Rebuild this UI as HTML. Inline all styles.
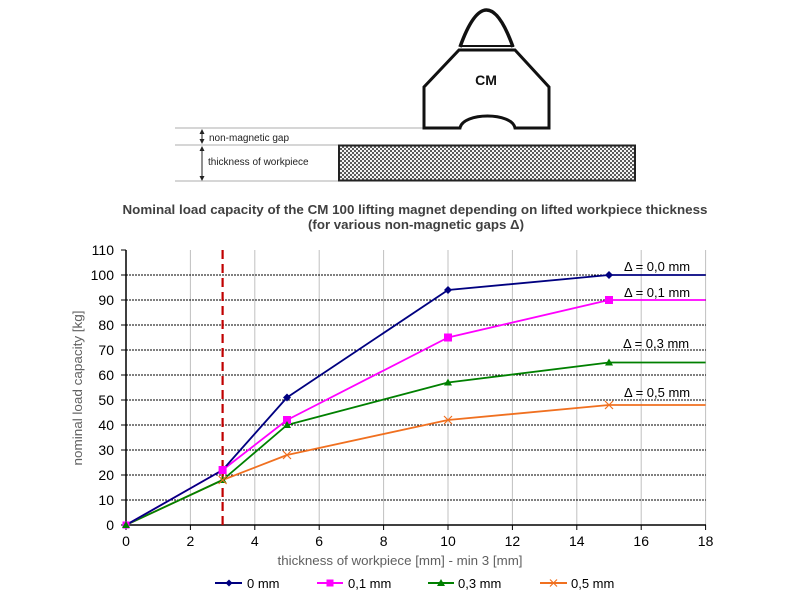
<!DOCTYPE html>
<html><head><meta charset="utf-8"><style>
html,body{margin:0;padding:0;background:#fff;}
svg{display:block;}
text{font-family:"Liberation Sans",Arial,sans-serif;}
</style></head><body>
<svg width="800" height="600" viewBox="0 0 800 600" xmlns="http://www.w3.org/2000/svg">
<defs>
<pattern id="chk" width="4" height="4" patternUnits="userSpaceOnUse">
<rect width="4" height="4" fill="#f4f4f4"/>
<rect width="2" height="2" fill="#5a5a5a"/>
<rect x="2" y="2" width="2" height="2" fill="#5a5a5a"/>
</pattern>
</defs>
<rect width="800" height="600" fill="#fff"/>

<!-- diagram -->
<line x1="175" y1="128" x2="423" y2="128" stroke="#c8c8c8" stroke-width="1.5"/>
<line x1="175" y1="145" x2="338" y2="145" stroke="#c8c8c8" stroke-width="1.5"/>
<line x1="175" y1="181" x2="338" y2="181" stroke="#c8c8c8" stroke-width="1.5"/>
<rect x="339" y="145.5" width="296" height="35" fill="url(#chk)" stroke="#222" stroke-width="2"/>
<!-- arrows -->
<line x1="202" y1="131" x2="202" y2="143" stroke="#222" stroke-width="1"/>
<polygon points="202,129 199.5,134 204.5,134" fill="#222"/>
<polygon points="202,144 199.5,139 204.5,139" fill="#222"/>
<line x1="202" y1="148" x2="202" y2="179" stroke="#222" stroke-width="1"/>
<polygon points="202,146 199.5,151 204.5,151" fill="#222"/>
<polygon points="202,181 199.5,176 204.5,176" fill="#222"/>
<text x="209" y="141" font-size="10" fill="#222">non-magnetic gap</text>
<text x="208" y="165" font-size="10" fill="#222">thickness of workpiece</text>
<!-- magnet -->
<path d="M460,47 Q486.5,-27 513,47" fill="none" stroke="#111" stroke-width="3.5"/>
<line x1="460" y1="46" x2="514" y2="46" stroke="#111" stroke-width="2"/>
<path d="M459,50 L515,50 L549,87 L549,128 L515,128 C512,112 463,112 460,128 L424,128 L424,87 Z" fill="#fff" stroke="#111" stroke-width="3"/>
<text x="486" y="85" font-size="14" font-weight="bold" text-anchor="middle" fill="#111">CM</text>

<!-- title -->
<text x="415" y="214" font-size="12.5" font-weight="bold" fill="#404040" text-anchor="middle" textLength="585" lengthAdjust="spacingAndGlyphs">Nominal load capacity of the CM 100 lifting magnet depending on lifted workpiece thickness</text>
<text x="416" y="229" font-size="12.5" font-weight="bold" fill="#404040" text-anchor="middle" textLength="216" lengthAdjust="spacingAndGlyphs">(for various non-magnetic gaps Δ)</text>

<!-- vertical grid -->
<g stroke="#c0c0c0" stroke-width="1">
<line x1="190.4" y1="250" x2="190.4" y2="525"/>
<line x1="254.8" y1="250" x2="254.8" y2="525"/>
<line x1="319.2" y1="250" x2="319.2" y2="525"/>
<line x1="383.6" y1="250" x2="383.6" y2="525"/>
<line x1="448" y1="250" x2="448" y2="525"/>
<line x1="512.4" y1="250" x2="512.4" y2="525"/>
<line x1="576.8" y1="250" x2="576.8" y2="525"/>
<line x1="641.2" y1="250" x2="641.2" y2="525"/>
<line x1="705.6" y1="250" x2="705.6" y2="525"/>
</g>
<!-- horizontal grid -->
<g stroke="#000" stroke-width="1" stroke-dasharray="2,1">
<line x1="126" y1="500" x2="706" y2="500"/>
<line x1="126" y1="475" x2="706" y2="475"/>
<line x1="126" y1="450" x2="706" y2="450"/>
<line x1="126" y1="425" x2="706" y2="425"/>
<line x1="126" y1="400" x2="706" y2="400"/>
<line x1="126" y1="375" x2="706" y2="375"/>
<line x1="126" y1="350" x2="706" y2="350"/>
<line x1="126" y1="325" x2="706" y2="325"/>
<line x1="126" y1="300" x2="706" y2="300"/>
<line x1="126" y1="275" x2="706" y2="275"/>
</g>
<!-- axes -->
<g stroke="#000" stroke-width="1.5">
<line x1="126" y1="250" x2="126" y2="525.5"/>
<line x1="125" y1="525" x2="706" y2="525"/>
</g>
<g stroke="#000" stroke-width="1">
<line x1="121" y1="525" x2="126" y2="525"/><line x1="121" y1="500" x2="126" y2="500"/>
<line x1="121" y1="475" x2="126" y2="475"/><line x1="121" y1="450" x2="126" y2="450"/>
<line x1="121" y1="425" x2="126" y2="425"/><line x1="121" y1="400" x2="126" y2="400"/>
<line x1="121" y1="375" x2="126" y2="375"/><line x1="121" y1="350" x2="126" y2="350"/>
<line x1="121" y1="325" x2="126" y2="325"/><line x1="121" y1="300" x2="126" y2="300"/>
<line x1="121" y1="275" x2="126" y2="275"/><line x1="121" y1="250" x2="126" y2="250"/>
<line x1="126" y1="525" x2="126" y2="530"/><line x1="190.4" y1="525" x2="190.4" y2="530"/>
<line x1="254.8" y1="525" x2="254.8" y2="530"/><line x1="319.2" y1="525" x2="319.2" y2="530"/>
<line x1="383.6" y1="525" x2="383.6" y2="530"/><line x1="448" y1="525" x2="448" y2="530"/>
<line x1="512.4" y1="525" x2="512.4" y2="530"/><line x1="576.8" y1="525" x2="576.8" y2="530"/>
<line x1="641.2" y1="525" x2="641.2" y2="530"/><line x1="705.6" y1="525" x2="705.6" y2="530"/>
</g>
<!-- y labels -->
<g font-size="14" fill="#000" text-anchor="end">
<text x="114" y="530">0</text><text x="114" y="505">10</text><text x="114" y="480">20</text>
<text x="114" y="455">30</text><text x="114" y="430">40</text><text x="114" y="405">50</text>
<text x="114" y="380">60</text><text x="114" y="355">70</text><text x="114" y="330">80</text>
<text x="114" y="305">90</text><text x="114" y="280">100</text><text x="114" y="255">110</text>
</g>
<!-- x labels -->
<g font-size="14" fill="#000" text-anchor="middle">
<text x="126" y="546">0</text><text x="190.4" y="546">2</text><text x="254.8" y="546">4</text>
<text x="319.2" y="546">6</text><text x="383.6" y="546">8</text><text x="448" y="546">10</text>
<text x="512.4" y="546">12</text><text x="576.8" y="546">14</text><text x="641.2" y="546">16</text>
<text x="705.6" y="546">18</text>
</g>
<text x="400" y="565" font-size="13" fill="#606060" text-anchor="middle" textLength="245" lengthAdjust="spacingAndGlyphs">thickness of workpiece [mm] - min 3 [mm]</text>
<text transform="translate(82,388) rotate(-90)" font-size="13" fill="#606060" text-anchor="middle" textLength="155" lengthAdjust="spacingAndGlyphs">nominal load capacity [kg]</text>

<!-- red dashed -->
<line x1="222.6" y1="250" x2="222.6" y2="525" stroke="#c00000" stroke-width="2.2" stroke-dasharray="9,5"/>

<!-- series -->
<g fill="none" stroke-width="1.8" stroke-linejoin="round">
<polyline stroke="#f07020" points="126,525 222.6,480 287,455 448,420 609,405 705.6,405"/>
<polyline stroke="#008000" points="126,525 222.6,480 287,425 448,382.5 609,362.5 705.6,362.5"/>
<polyline stroke="#ff00ff" points="126,525 222.6,470 287,420 448,337.5 609,300 705.6,300"/>
<polyline stroke="#000080" points="126,525 222.6,470 287,397.5 448,290 609,275 705.6,275"/>
</g>
<!-- markers -->
<g fill="#000080">
<polygon points="126,521 130,525 126,529 122,525"/>
<polygon points="222.6,466 226.6,470 222.6,474 218.6,470"/>
<polygon points="287,393.5 291,397.5 287,401.5 283,397.5"/>
<polygon points="448,286 452,290 448,294 444,290"/>
<polygon points="609,271 613,275 609,279 605,275"/>
</g>
<g fill="#ff00ff">
<rect x="122.5" y="521.5" width="7" height="7"/>
<rect x="218.6" y="466" width="8" height="8"/>
<rect x="283" y="416" width="8" height="8"/>
<rect x="444" y="333.5" width="8" height="8"/>
<rect x="605" y="296" width="8" height="8"/>
</g>
<g fill="#008000">
<polygon points="126,521 130,528 122,528"/>
<polygon points="222.6,476 226.6,483 218.6,483"/>
<polygon points="287,421 291,428 283,428"/>
<polygon points="448,378.5 452,385.5 444,385.5"/>
<polygon points="609,358.5 613,365.5 605,365.5"/>
</g>
<g stroke="#f07020" stroke-width="1.2">
<path d="M218.6,476 l8,8 M226.6,476 l-8,8"/>
<path d="M283,451 l8,8 M291,451 l-8,8"/>
<path d="M444,416 l8,8 M452,416 l-8,8"/>
<path d="M605,401 l8,8 M613,401 l-8,8"/>
</g>

<!-- delta labels -->
<g font-size="13" fill="#000">
<text x="624" y="271">Δ = 0,0 mm</text>
<text x="624" y="297">Δ = 0,1 mm</text>
<text x="623" y="348">Δ = 0,3 mm</text>
<text x="624" y="397">Δ = 0,5 mm</text>
</g>

<!-- legend -->
<g stroke-width="2">
<line x1="215" y1="583" x2="242" y2="583" stroke="#000080"/>
<line x1="317" y1="583" x2="343" y2="583" stroke="#ff00ff"/>
<line x1="428" y1="583" x2="454" y2="583" stroke="#008000"/>
<line x1="540" y1="583" x2="567" y2="583" stroke="#f07020"/>
</g>
<polygon points="229,579.5 232.5,583 229,586.5 225.5,583" fill="#000080"/>
<rect x="326.5" y="579.5" width="7" height="7" fill="#ff00ff"/>
<polygon points="441,579 445,586 437,586" fill="#008000"/>
<path d="M550,579.5 l7,7 M557,579.5 l-7,7" stroke="#f07020" stroke-width="1.2"/>
<g font-size="13" fill="#000">
<text x="247" y="588">0 mm</text>
<text x="348" y="588">0,1 mm</text>
<text x="458" y="588">0,3 mm</text>
<text x="571" y="588">0,5 mm</text>
</g>
</svg>
</body></html>
